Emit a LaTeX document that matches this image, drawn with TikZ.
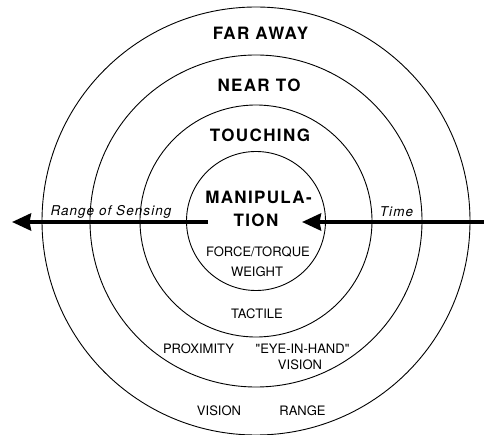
\documentclass[tikz,border=0pt]{standalone}
\usepackage{fontspec}
\setmainfont{TeX Gyre Heros}[Ligatures=TeXOff]
\newfontfamily\bigfam[LetterSpace=8]{TeX Gyre Heros}
\newfontfamily\itfam[LetterSpace=8]{TeX Gyre Heros}
\usetikzlibrary{arrows.meta}
\begin{document}
\begin{tikzpicture}[x=1pt,y=-1pt,
  ring/.style={draw=black,line width=0.9pt},
  biglabel/.style={anchor=base,inner sep=0pt,font=\bigfam\bfseries\fontsize{17}{20}\selectfont},
  smalllabel/.style={anchor=base,inner sep=0pt,font=\fontsize{13}{15}\selectfont},
  itlabel/.style={anchor=base,inner sep=0pt,font=\itfam\itshape\fontsize{13.5}{16}\selectfont},
  bigarrow/.style={line width=3.8pt,-{Stealth[length=19pt,width=17pt,inset=1.5pt]}}
]
\useasboundingbox (0,0) rectangle (484,435);
\fill[white] (0,0) rectangle (484,435);
\coordinate (c) at (256,221);
\draw[ring] (c) circle[radius=214];
\draw[ring] (c) circle[radius=166];
\draw[ring] (c) circle[radius=116];
\draw[ring] (c) circle[radius=69.5];

\node[biglabel] (far) at (260.5,40) {FAR AWAY};
\node[biglabel] (near) at (259,92) {NEAR TO};
\node[biglabel] (touch) at (260,142) {TOUCHING};
\node[biglabel] (manip) at (258.5,204) {MANIPULA-};
\node[biglabel] (tion) at (256,227) {TION};

\node[smalllabel] (force) at (258,256.7) {FORCE/TORQUE};
\node[smalllabel] (weight) at (257,276.7) {WEIGHT};
\node[smalllabel] (tactile) at (257,318.7) {TACTILE};
\node[smalllabel] (prox) at (198.5,353.7) {PROXIMITY};
\node[smalllabel] (eye) at (302.5,353.7) {"EYE-IN-HAND"};
\node[smalllabel] (vis1) at (300,369.7) {VISION};
\node[smalllabel] (vis2) at (219,415.7) {VISION};
\node[smalllabel] (range) at (302.5,415.7) {RANGE};

\node[itlabel] (ros) at (111,216) {Range of Sensing};
\node[itlabel] (time) at (396.5,217) {Time};

\coordinate (lstart) at (208,222);
\coordinate (lend) at (12,222);
\coordinate (rstart) at (484,222);
\coordinate (rend) at (302,222);
\draw[bigarrow] (lstart) -- (lend);
\draw[bigarrow] (rstart) -- (rend);
\end{tikzpicture}
\end{document}
